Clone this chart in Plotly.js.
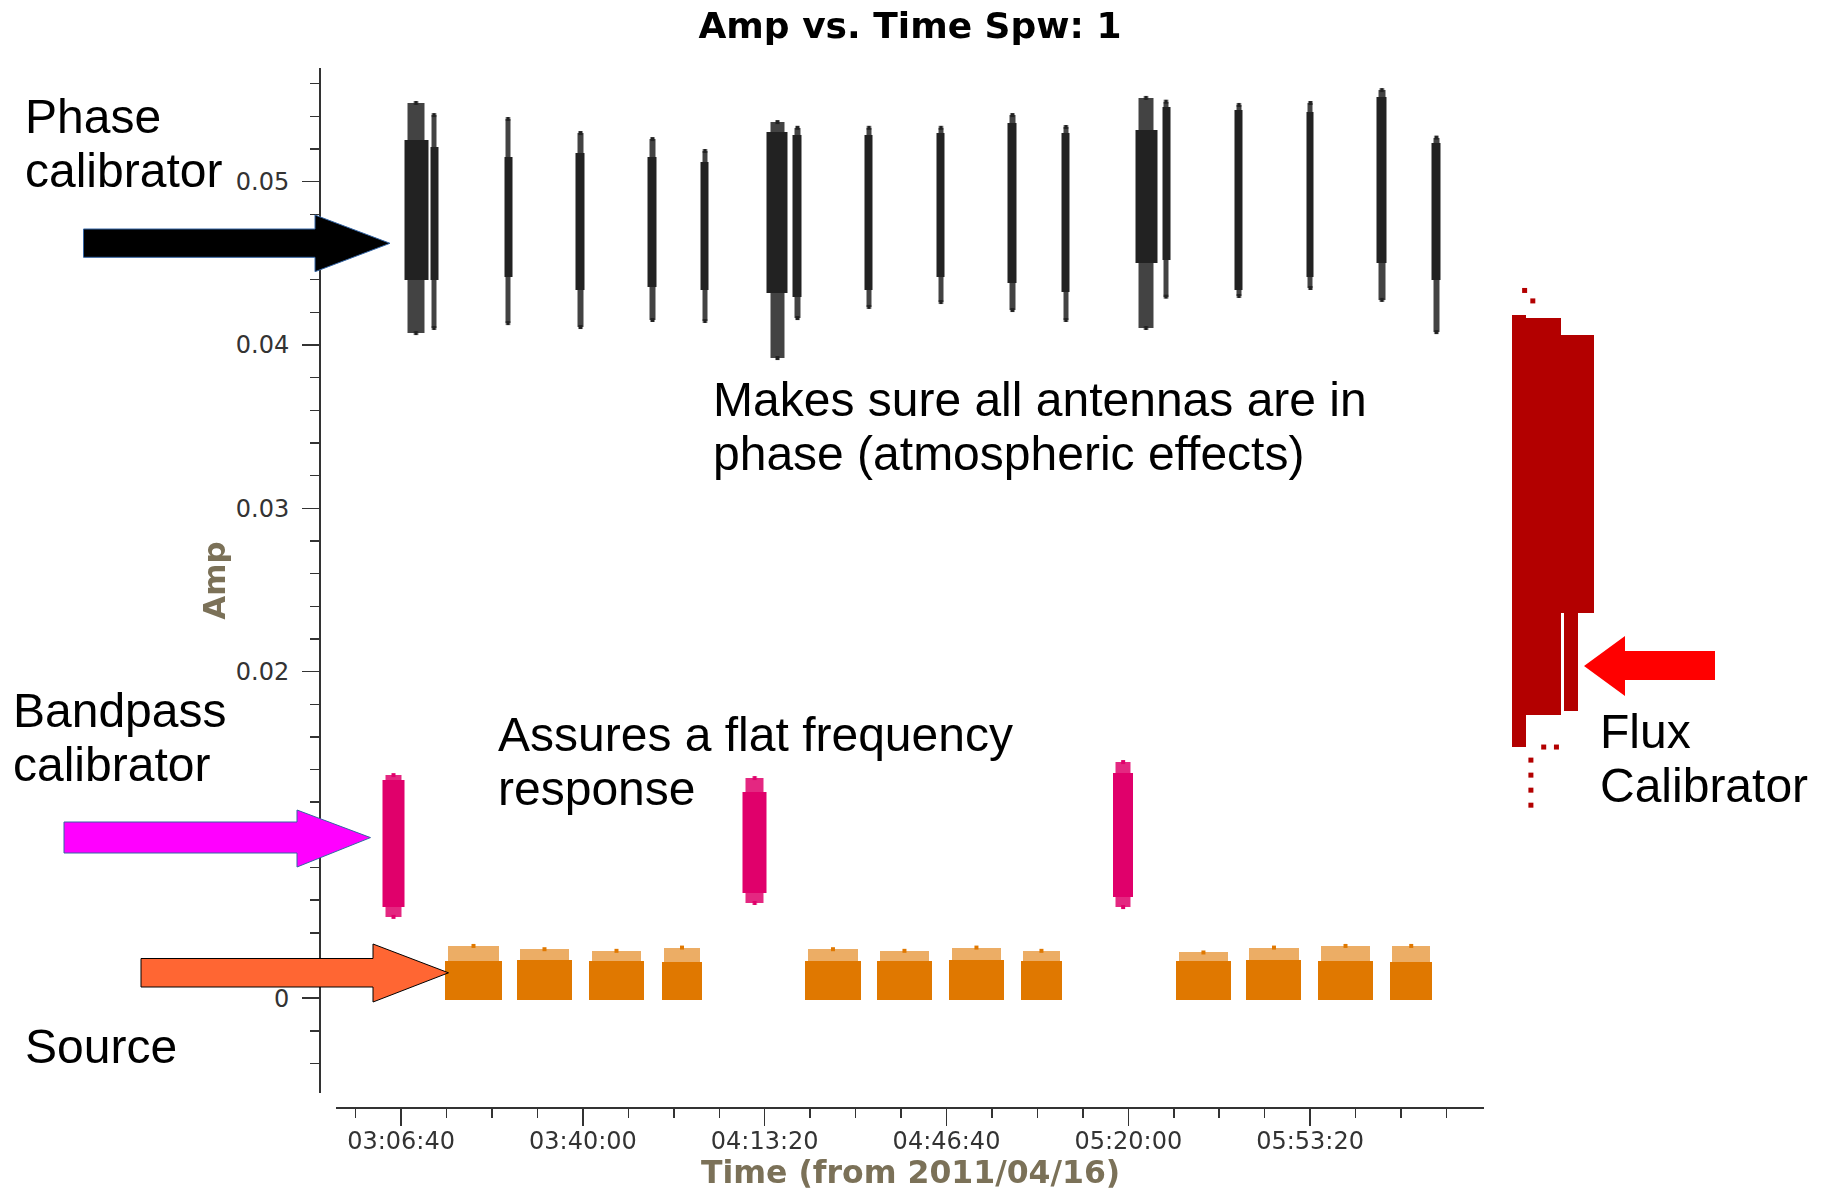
<!DOCTYPE html>
<html><head><meta charset="utf-8">
<script src="https://cdn.plot.ly/plotly-3.0.1.min.js"></script>
<style>html,body{margin:0;padding:0;background:#fff}</style>
</head><body>
<div id="chart" style="width:1827px;height:1191px"></div>
<script>
// ---------------- data ----------------
// Phase calibrator scans: start / end time, dense amplitude range, outlier extremes
const phaseStart = ['03:07:12','03:11:58','03:25:32','03:38:44','03:51:56','04:01:39','04:13:45','04:18:31','04:31:43','04:44:55','04:57:56','05:07:50','05:21:14','05:26:11','05:39:33','05:52:45','06:05:35','06:15:40'];
const phaseEnd   = ['03:11:36','03:13:26','03:27:00','03:40:23','03:53:35','04:03:07','04:17:36','04:20:10','04:33:11','04:46:23','04:59:35','05:09:18','05:25:16','05:27:39','05:41:01','05:54:02','06:07:25','06:17:19'];
const phaseLo    = [0.04398,0.04398,0.04417,0.04337,0.04355,0.04337,0.04318,0.04296,0.04337,0.04417,0.04380,0.04324,0.04502,0.04520,0.04337,0.04417,0.04502,0.04398];
const phaseHi    = [0.05256,0.05214,0.05152,0.05176,0.05152,0.05121,0.05304,0.05286,0.05286,0.05298,0.05359,0.05298,0.05316,0.05459,0.05439,0.05426,0.05518,0.05237];
const phaseOutLo = [0.04073,0.04104,0.04134,0.04110,0.04153,0.04147,0.03920,0.04165,0.04233,0.04263,0.04214,0.04153,0.04104,0.04296,0.04300,0.04349,0.04276,0.04079];
const phaseOutHi = [0.05482,0.05408,0.05384,0.05298,0.05261,0.05188,0.05365,0.05330,0.05330,0.05330,0.05408,0.05335,0.05513,0.05490,0.05470,0.05482,0.05561,0.05270];

// Bandpass calibrator scans
const bpStart = ['03:03:18','04:09:18','05:17:11'];
const bpEnd   = ['03:07:15','04:13:42','05:20:56'];
const bpLo    = [0.00559,0.00644,0.00620];
const bpHi    = [0.01336,0.01263,0.01380];
const bpOutLo = [0.00498,0.00583,0.00558];
const bpOutHi = [0.01366,0.01348,0.01446];

// Source scans
const srcStart = ['03:14:43','03:27:55','03:41:07','03:54:30','04:20:43','04:33:55','04:47:07','05:00:19','05:28:44','05:41:40','05:54:47','06:07:59'];
const srcEnd   = ['03:25:10','03:38:00','03:51:12','04:01:50','04:30:59','04:44:00','04:57:12','05:07:50','05:38:49','05:51:45','06:04:52','06:15:46'];
const srcLo    = [-0.0001,-0.0001,-0.0001,-0.0001,-0.0001,-0.0001,-0.0001,-0.0001,-0.0001,-0.0001,-0.0001,-0.0001];
const srcHi    = [0.00225,0.00235,0.00228,0.00222,0.00225,0.00228,0.00232,0.00226,0.00228,0.00232,0.00230,0.00222];
const srcOutHi = [0.0032,0.0030,0.0029,0.0031,0.0030,0.0029,0.0031,0.0029,0.0028,0.0031,0.0032,0.0032];

// Flux calibrator (one long scan, drawn as its envelope pieces) + stray points
const fluxStart = ['06:30:16','06:32:53','06:39:19','06:39:52'];
const fluxEnd   = ['06:32:53','06:39:19','06:45:22','06:42:26'];
const fluxLo    = [0.01538,0.01734,0.02358,0.01758];
const fluxHi    = [0.04183,0.04164,0.04060,0.02358];
const fluxDotT  = ['06:33:49','06:33:49','06:33:49','06:33:49','06:36:10','06:38:30','06:32:40','06:34:10'];
const fluxDotA  = [0.01458,0.01366,0.01274,0.01182,0.01538,0.01538,0.04334,0.04270];

// Axis tick labels
const xTickLabels = ['03:06:40','03:40:00','04:13:20','04:46:40','05:20:00','05:53:20'];
const xMinorTicks = ['02:58:20','03:15:00','03:23:20','03:31:40','03:48:20','03:56:40','04:05:00','04:21:40','04:30:00','04:38:20','04:55:00','05:03:20','05:11:40','05:28:20','05:36:40','05:45:00','06:01:40','06:10:00','06:18:20'];

// ---------------- helpers ----------------
function ms(hms){const p=hms.split(':').map(Number);return Date.UTC(2011,3,16,p[0],p[1],p[2]);}
const W=1827,H=1191,L=320,R=200,T=68,B=15,PW=W-L-R,PH=H-T-B;
const XAXPX=1108, YBOTPX=1093;                                   // x-axis line / y-axis bottom (px)
const T0=ms('03:06:40'), X0PX=401.1, PXPS=181.8/2000;
function pxToMs(p){return T0+(p-X0PX)/PXPS*1000;}
const PXPA=16330, ZEROPX=998.2;                                   // px per amp unit, y of amp 0
function px(x){return (x-L)/PW;}
function py(y){return (H-B-y)/PH;}

function barTrace(st,en,lo,hi,color,xa,wf,op){
  return {type:'bar',xaxis:xa,yaxis:'y',
    x:st.map((s,i)=>(ms(s)+ms(en[i]))/2),
    width:st.map((s,i)=>(ms(en[i])-ms(s))*(wf||1)),
    base:lo, y:hi.map((h,i)=>h-lo[i]), opacity:op||1,
    marker:{color:color,line:{width:0}},hoverinfo:'skip',showlegend:false};
}
function dotTrace(t,a,color,xa,size){
  return {type:'scatter',mode:'markers',xaxis:xa,yaxis:'y',x:t,y:a,
    marker:{symbol:'square',size:size,color:color,line:{width:0}},hoverinfo:'skip',showlegend:false,cliponaxis:false};
}
const mid=(st,en)=>st.map((s,i)=>(ms(s)+ms(en[i]))/2);

const PH_COL='#222222', BP_COL='#e0006b', SRC_COL='#e07800', FLUX_COL='#b30000';
const pm=mid(phaseStart,phaseEnd), bm=mid(bpStart,bpEnd), sm=mid(srcStart,srcEnd);
const traces=[
  barTrace(phaseStart,phaseEnd,phaseOutLo,phaseOutHi,PH_COL,'x',0.7,0.85),
  barTrace(phaseStart,phaseEnd,phaseLo,phaseHi,PH_COL,'x'),
  dotTrace(pm.concat(pm),phaseOutLo.concat(phaseOutHi),PH_COL,'x',4),
  barTrace(bpStart,bpEnd,bpOutLo,bpOutHi,BP_COL,'x',0.75,0.85),
  barTrace(bpStart,bpEnd,bpLo,bpHi,BP_COL,'x'),
  dotTrace(bm.concat(bm),bpOutLo.concat(bpOutHi),BP_COL,'x',4),
  barTrace(srcStart,srcEnd,srcHi,srcOutHi,SRC_COL,'x',0.9,0.6),
  barTrace(srcStart,srcEnd,srcLo,srcHi,SRC_COL,'x'),
  dotTrace(sm,srcOutHi,SRC_COL,'x',4),
  barTrace(fluxStart,fluxEnd,fluxLo,fluxHi,FLUX_COL,'x2'),
  dotTrace(fluxDotT.map(ms),fluxDotA,FLUX_COL,'x2',5)
];

// ---------------- layout ----------------
const TXT={family:'Liberation Sans, Arial, sans-serif',size:48,color:'#000'};
function ann(text,x,baseline){
  return {text:text,xref:'paper',yref:'paper',x:px(x),y:py(baseline-16.8),xanchor:'left',yanchor:'middle',showarrow:false,font:TXT};
}
function arrowR(x0,xh,xt,sy0,sy1,hy0,hy1,ty){
  const p=[[x0,sy0],[xh,sy0],[xh,hy0],[xt,ty],[xh,hy1],[xh,sy1],[x0,sy1]];
  return 'M'+p.map(q=>px(q[0])+','+py(q[1])).join(' L')+' Z';
}
const shapes=[
  {type:'path',xref:'paper',yref:'paper',path:arrowR(83.5,315,390,229,257.3,215,271.7,243.3),fillcolor:'#000000',line:{color:'#3465a4',width:1}},
  {type:'path',xref:'paper',yref:'paper',path:arrowR(64,297,370.5,822,853,810,867,837.6),fillcolor:'#ff00ff',line:{color:'#3465a4',width:1}},
  {type:'path',xref:'paper',yref:'paper',path:arrowR(141,373,448.5,958.5,987,944,1002,972.8),fillcolor:'#ff6633',line:{color:'#000000',width:1}},
  {type:'path',xref:'paper',yref:'paper',path:arrowR(1715,1625,1584,651,680,636,696,666),fillcolor:'#ff0000',line:{width:0}}
];
const AXCOL='#333333', TITLECOL='#7b7158';
const annotations=[
  ann('Phase',22.5,133.3), ann('calibrator',22.5,187.3),
  ann('Makes sure all antennas are in',711,416), ann('phase (atmospheric effects)',711,470),
  ann('Bandpass',10.5,727), ann('calibrator',10.5,781.5),
  ann('Assures a flat frequency',495.5,751), ann('response',495.5,805),
  ann('Flux',1597.5,748), ann('Calibrator',1597.5,802),
  ann('Source',22.5,1063.5),
  {text:'Time (from 2011/04/16)',xref:'paper',yref:'paper',x:px(910),y:py(1172),xanchor:'center',yanchor:'middle',
   showarrow:false,borderpad:0,font:{family:'DejaVu Sans',size:31.5,color:TITLECOL,weight:'bold'}}
];
const layout={
  width:W,height:H,margin:{l:L,r:R,t:T,b:B,pad:0},
  paper_bgcolor:'#ffffff',plot_bgcolor:'#ffffff',showlegend:false,barmode:'overlay',bargap:0,
  title:{text:'Amp vs. Time Spw: 1',font:{family:'DejaVu Sans',size:36,color:'#000',weight:'bold'},
    xref:'paper',x:px(910),xanchor:'center',yref:'container',y:1-25.6/H,yanchor:'middle'},
  xaxis:{type:'date',domain:[px(335.5),px(1484)],range:[pxToMs(335.5),pxToMs(1484)],
    anchor:'free',position:py(XAXPX),showgrid:false,zeroline:false,
    showline:true,linecolor:AXCOL,linewidth:2,
    tickmode:'array',tickvals:xTickLabels.map(ms),ticktext:xTickLabels,
    ticks:'outside',ticklen:17,tickwidth:1.5,tickcolor:AXCOL,ticklabelstandoff:-6,
    minor:{tickmode:'array',tickvals:xMinorTicks.map(ms),ticks:'outside',ticklen:9,tickwidth:1.5,tickcolor:AXCOL,showgrid:false},
    tickfont:{family:'DejaVu Sans',size:24,color:AXCOL}},
  xaxis2:{type:'date',domain:[px(1492),1],range:[pxToMs(1492),pxToMs(W-R)],anchor:'free',position:py(XAXPX),
    visible:false,showgrid:false,zeroline:false},
  yaxis:{domain:[py(YBOTPX),1],range:[-(YBOTPX-ZEROPX)/PXPA,0.05+(181.7-T)/PXPA],
    anchor:'free',position:0,showgrid:false,zeroline:false,
    showline:true,linecolor:AXCOL,linewidth:2,
    tickmode:'linear',tick0:0,dtick:0.01,
    ticks:'outside',ticklen:17,tickwidth:1.5,tickcolor:AXCOL,ticklabelstandoff:8,
    minor:{tick0:0,dtick:0.002,ticks:'outside',ticklen:9,tickwidth:1.5,tickcolor:AXCOL,showgrid:false},
    tickfont:{family:'DejaVu Sans',size:24,color:AXCOL},
    title:{text:'Amp',font:{family:'DejaVu Sans',size:31,color:TITLECOL,weight:'bold'},standoff:0}},
  shapes:shapes,annotations:annotations
};
Plotly.newPlot('chart',traces,layout,{staticPlot:true,displayModeBar:false});
</script>
</body></html>
